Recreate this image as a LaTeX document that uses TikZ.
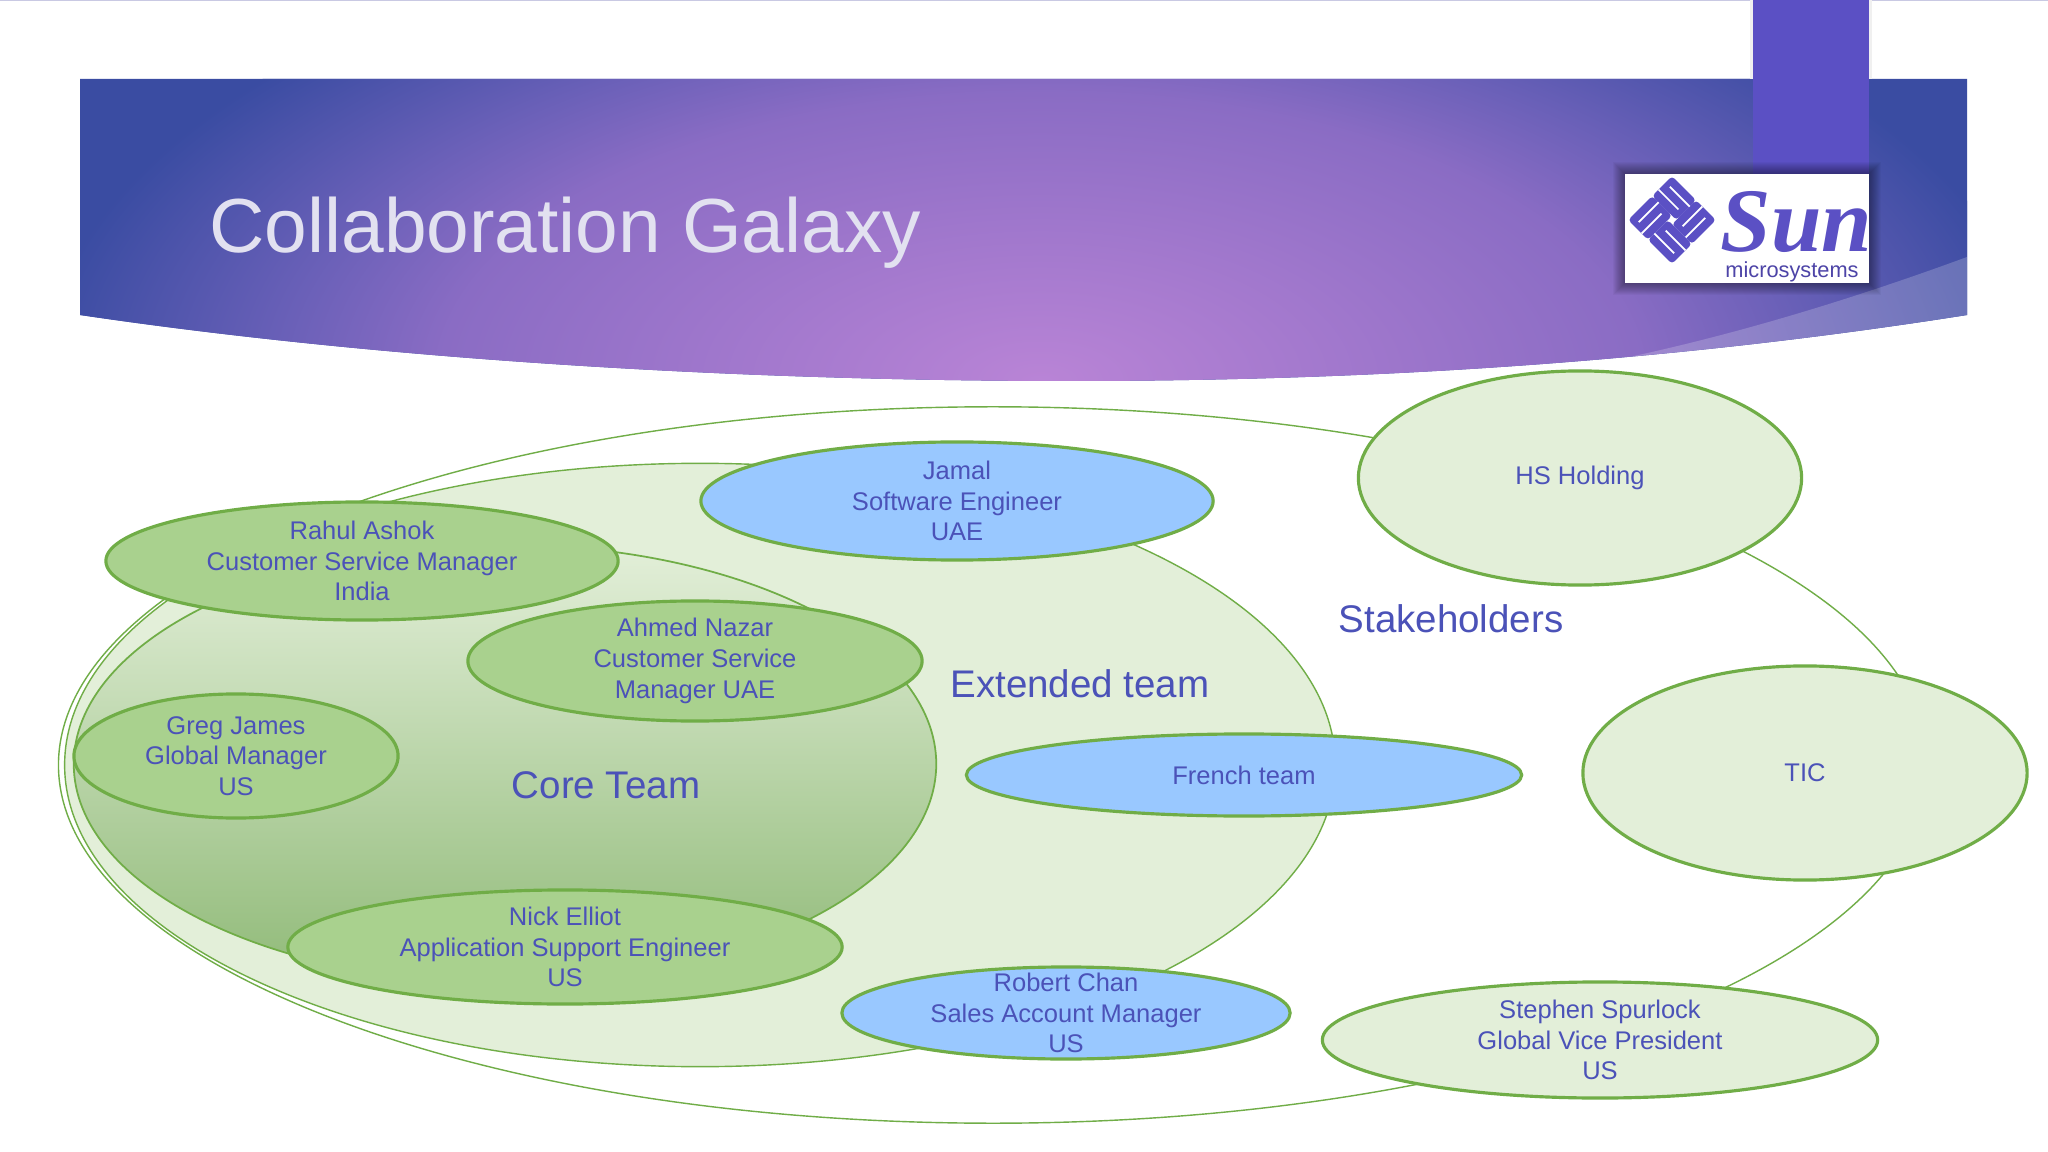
\documentclass[tikz,border=0pt]{standalone}
\usepackage{fontspec}
\setmainfont{Liberation Sans}
\newfontfamily\logofont{Liberation Serif}
\usetikzlibrary{shapes.geometric}

\definecolor{inkblue}{HTML}{4B52B8}
\definecolor{ribbon}{HTML}{5B50C4}
\definecolor{edgegreen}{HTML}{70AD47}
\definecolor{palegreen}{HTML}{E3EFD9}
\definecolor{midgreen}{HTML}{A9D18E}
\definecolor{darkgreen}{HTML}{90BA78}
\definecolor{skyblue}{HTML}{99C8FF}
\definecolor{bandedge}{HTML}{3A4CA2}
\definecolor{bandlow}{HTML}{6A60B8}
\definecolor{bandmid}{HTML}{8A6CC4}
\definecolor{bandglow}{HTML}{B984D6}
\definecolor{hairline}{HTML}{C9C9E3}
\definecolor{titlegrey}{HTML}{E2E1F0}

\pgfdeclareradialshading{titleglow}{\pgfpoint{0bp}{0bp}}{%
  color(0bp)=(bandglow);
  color(15bp)=(bandmid);
  color(19bp)=(bandlow);
  color(25bp)=(bandedge);
  color(50bp)=(bandedge)}

\tikzstyle{group}=[ellipse, draw=edgegreen, line width=0.4pt, inner sep=0pt]
\tikzstyle{member}=[ellipse, draw=edgegreen, line width=0.9pt, inner xsep=0pt, inner ysep=-3mm, align=center, text=inkblue, font=\fontsize{7.26}{8.75}\selectfont]
\tikzstyle{core}=[member, fill=midgreen]
\tikzstyle{extended}=[member, fill=skyblue]
\tikzstyle{outer}=[member, fill=palegreen]
\tikzstyle{heading}=[text=inkblue, font=\fontsize{10.95}{13}\selectfont]

\begin{document}
\begin{tikzpicture}[x=0.01cm, y=-0.01cm]
            \useasboundingbox (0,0) rectangle (2048,1152);
            \fill[white] (0,0) rectangle (2048,1152);
            \fill[hairline] (0,0) rectangle (2048,1);
            % title band
            \begin{scope}
                \clip (80,79) -- (1967,79) -- (1967,315) .. controls (1650,365) and (1350,381) .. (1070,381) .. controls (700,381) and (350,355) .. (80,315) -- cycle;
                \fill[bandedge] (0,0) rectangle (2048,400);
                \shade[shading=titleglow] (1040,381) ellipse (1000 and 480);
                \fill[white, opacity=0.2] (1967,257) .. controls (1850,300) and (1720,340) .. (1590,365) -- (1590,400) -- (1967,400) -- cycle;
            \end{scope}
            \fill[black!6!white] (1750,0) rectangle (1872,79);
            \fill[ribbon] (1753,0) rectangle (1869,174);
            % logo
            \foreach \i in {1,...,12}
                \fill[black, opacity=0.035] (1625-\i,174-\i) rectangle (1869+\i,283+\i);
            \fill[white] (1625,174) rectangle (1869,283);
            \node[text=ribbon, anchor=west, inner sep=0pt, text depth=0pt, font=\logofont\bfseries\itshape\fontsize{25.8}{26}\selectfont] at (1720,221) (sun) {Sun};
            \node[text=ribbon!85!black, font=\fontsize{6.2}{6.2}\selectfont, inner sep=0pt] at (1792,272) (micro) {microsystems};
            \begin{scope}[shift={(1672,220)}, rotate=45]
                \foreach \a in {0,90,180,270} {
                    \begin{scope}[rotate=\a]
                        \fill[ribbon, rounded corners=1pt] (-3,3) rectangle (31,31);
                        \draw[white, line width=0.5pt] (3,12) -- (31,12);
                        \draw[white, line width=0.5pt] (-3,22) -- (25,22);
                    \end{scope}
                }
            \end{scope}
            \node[text=titlegrey, font=\fontsize{21.8}{24}\selectfont, anchor=west] at (197,233) (title) {Collaboration Galaxy};
            % nested groups
            \node[group, fill=white, minimum width=18.68cm, minimum height=7.16cm] at (993,765) (stake) {};
            \node[group, fill=palegreen, minimum width=12.7cm, minimum height=6.03cm] at (700,765) (team) {};
            \node[group, line width=0.5pt, top color=palegreen, bottom color=darkgreen, minimum width=8.62cm, minimum height=4.38cm] at (505,764) (coregroup) {};
            \node[heading] at (1451,619) (stakelabel) {Stakeholders};
            \node[heading] at (1080,684) (teamlabel) {Extended team};
            \node[heading] at (606,785) (corelabel) {Core Team};
            % people
            \node[core, minimum width=5.12cm, minimum height=1.18cm] at (362,561) (rahul) {Rahul Ashok\\Customer Service Manager\\India};
            \node[core, minimum width=4.54cm, minimum height=1.2cm] at (695,661) (ahmed) {Ahmed Nazar\\Customer Service\\Manager UAE};
            \node[core, minimum width=3.24cm, minimum height=1.24cm] at (236,756) (greg) {Greg James\\Global Manager\\US};
            \node[core, minimum width=5.54cm, minimum height=1.14cm] at (565,947) (nick) {Nick Elliot\\Application Support Engineer\\US};
            \node[extended, minimum width=5.12cm, minimum height=1.18cm] at (957,501) (jamal) {Jamal\\Software Engineer\\UAE};
            \node[extended, minimum width=5.55cm, minimum height=0.82cm] at (1244,775) (french) {French team};
            \node[extended, minimum width=4.48cm, minimum height=0.92cm] at (1066,1013) (robert) {Robert Chan\\Sales Account Manager\\US};
            \node[outer, minimum width=5.55cm, minimum height=1.16cm] at (1600,1040) (stephen) {Stephen Spurlock\\Global Vice President\\US};
            \node[outer, minimum width=4.43cm, minimum height=2.14cm] at (1580,478) (hs) {HS Holding};
            \node[outer, minimum width=4.44cm, minimum height=2.14cm] at (1805,773) (tic) {TIC};
        \end{tikzpicture}
\end{document}
